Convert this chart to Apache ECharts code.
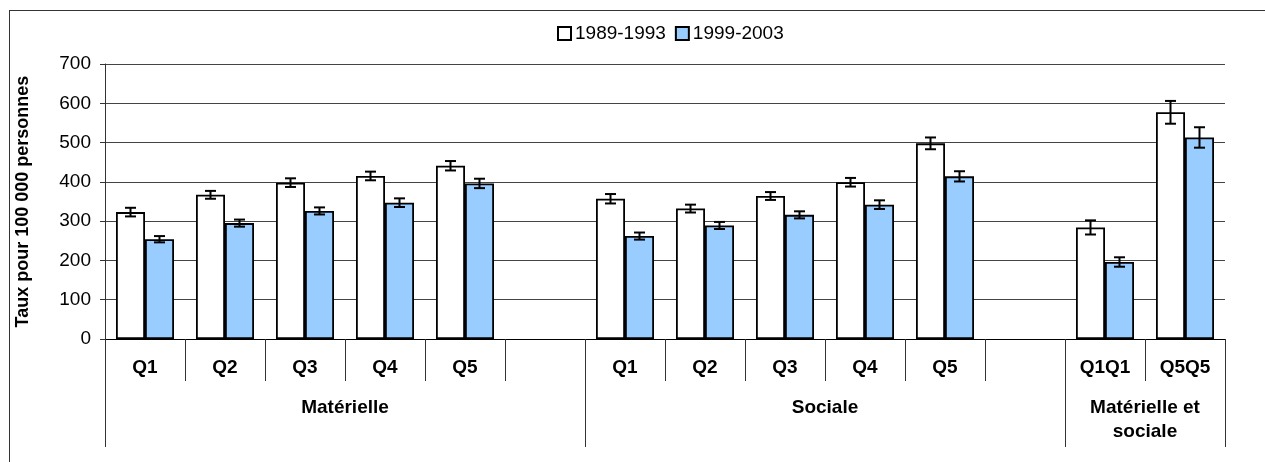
<!DOCTYPE html>
<html>
<head>
<meta charset="utf-8">
<script src="https://cdn.jsdelivr.net/npm/echarts@6/dist/echarts.min.js"></script>
<style>
  html, body { margin: 0; padding: 0; background: #fff; }
  #chart { width: 1265px; height: 462px; position: relative; }
  #frame { position: absolute; left: 9px; top: 10px; width: 1300px; height: 500px;
           border: 1.5px solid #333; box-sizing: border-box; pointer-events: none; }
</style>
</head>
<body>
<div id="chart"></div>
<div id="frame"></div>
<script>
// ---- data ----
const categories = ['Q1','Q2','Q3','Q4','Q5','', 'Q1','Q2','Q3','Q4','Q5','', 'Q1Q1','Q5Q5'];
const groupNames = ['Matérielle', 'Sociale', 'Matérielle et\nsociale'];
const groupSizes = [6, 6, 2];
const seriesNames = ['1989-1993', '1999-2003'];
const values1989 = [323, 367, 398, 415, 441, null, 357, 332, 364, 399, 498, null, 284, 577];
const values1999 = [254, 295, 326, 347, 396, null, 262, 289, 316, 342, 414, null, 196, 513];
const err1989 = [11, 10, 11, 11, 12, null, 12, 10, 10, 11, 15, null, 18, 29];
const err1999 = [8, 9, 9, 11, 12, null, 9, 9, 9, 11, 13, null, 12, 26];
const yTicks = [0, 100, 200, 300, 400, 500, 600, 700];

// ---- derived group boundaries / centers ----
const bounds = [0];
groupSizes.forEach(s => bounds.push(bounds[bounds.length - 1] + s));
const centers = groupSizes.map((s, i) => bounds[i] + s / 2);

const FONT = 'Liberation Sans, Arial, sans-serif';
const BAR_W = 29;

function errData(vals, errs) {
  const out = [];
  vals.forEach((v, i) => { if (v != null) out.push([i, v, errs[i]]); });
  return out;
}
function errRender(offsetSign) {
  return function (params, api) {
    const i = api.value(0), v = api.value(1), e = api.value(2);
    const c = api.coord([i, v]);
    const x = c[0] + offsetSign * BAR_W / 2;
    const yt = api.coord([i, v + e])[1];
    const yb = api.coord([i, v - e])[1];
    const cap = 5.5;
    const st = { stroke: '#000', lineWidth: 2 };
    return {
      type: 'group',
      children: [
        { type: 'line', shape: { x1: x, y1: yt, x2: x, y2: yb }, style: st },
        { type: 'line', shape: { x1: x - cap, y1: yt, x2: x + cap, y2: yt }, style: st },
        { type: 'line', shape: { x1: x - cap, y1: yb, x2: x + cap, y2: yb }, style: st }
      ]
    };
  };
}

const chart = echarts.init(document.getElementById('chart'));
chart.setOption({
  animation: false,
  textStyle: { fontFamily: FONT },
  legend: {
    data: seriesNames,
    icon: 'rect',
    left: 552, top: 19,
    itemWidth: 13, itemHeight: 13, itemGap: 9,
    textStyle: { fontFamily: FONT, fontSize: 19, color: '#000', padding: [0, 0, 0, -1] }
  },
  grid: { left: 105, right: 40, top: 64, bottom: 123 },
  xAxis: [
    {
      type: 'category',
      data: categories,
      axisLine: { lineStyle: { color: '#000', width: 1.2 } },
      axisTick: { show: true, length: 42, interval: 0, lineStyle: { color: '#333', width: 1 } },
      axisLabel: { interval: 0, margin: 19, fontFamily: FONT, fontSize: 19, fontWeight: 'bold', color: '#000' },
      splitLine: { show: false }
    },
    {
      type: 'value',
      min: 0, max: bounds[bounds.length - 1],
      position: 'bottom',
      axisLine: { show: false },
      axisTick: { show: true, length: 108, customValues: bounds, lineStyle: { color: '#333', width: 1 } },
      axisLabel: {
        customValues: centers,
        margin: 57,
        formatter: function (val) {
          const k = centers.indexOf(val);
          return k >= 0 ? groupNames[k] : '';
        },
        fontFamily: FONT, fontSize: 19, fontWeight: 'bold', color: '#000', lineHeight: 24
      },
      splitLine: { show: false }
    }
  ],
  yAxis: {
    type: 'value',
    min: yTicks[0], max: yTicks[yTicks.length - 1], interval: 100,
    name: 'Taux pour 100 000 personnes',
    nameLocation: 'middle',
    nameGap: 73,
    nameTextStyle: { fontFamily: FONT, fontSize: 18, fontWeight: 'bold', color: '#000' },
    axisLine: { show: true, lineStyle: { color: '#333', width: 1 } },
    axisTick: { show: true, length: 5, lineStyle: { color: '#333' } },
    axisLabel: { margin: 14, fontFamily: FONT, fontSize: 19, color: '#000' },
    splitLine: { show: true, lineStyle: { color: '#444', width: 1 } }
  },
  series: [
    {
      name: seriesNames[0], type: 'bar', data: values1989,
      barWidth: BAR_W, barGap: '0%',
      itemStyle: { color: '#FFFFFF', borderColor: '#000', borderWidth: 1.8 }
    },
    {
      name: seriesNames[1], type: 'bar', data: values1999,
      barWidth: BAR_W, barGap: '0%',
      itemStyle: { color: '#99CCFF', borderColor: '#000', borderWidth: 1.8 }
    },
    {
      type: 'custom', data: errData(values1989, err1989),
      renderItem: errRender(-1), z: 10, silent: true,
      encode: { x: 0, y: 1 }
    },
    {
      type: 'custom', data: errData(values1999, err1999),
      renderItem: errRender(1), z: 10, silent: true,
      encode: { x: 0, y: 1 }
    }
  ]
});
</script>
</body>
</html>
